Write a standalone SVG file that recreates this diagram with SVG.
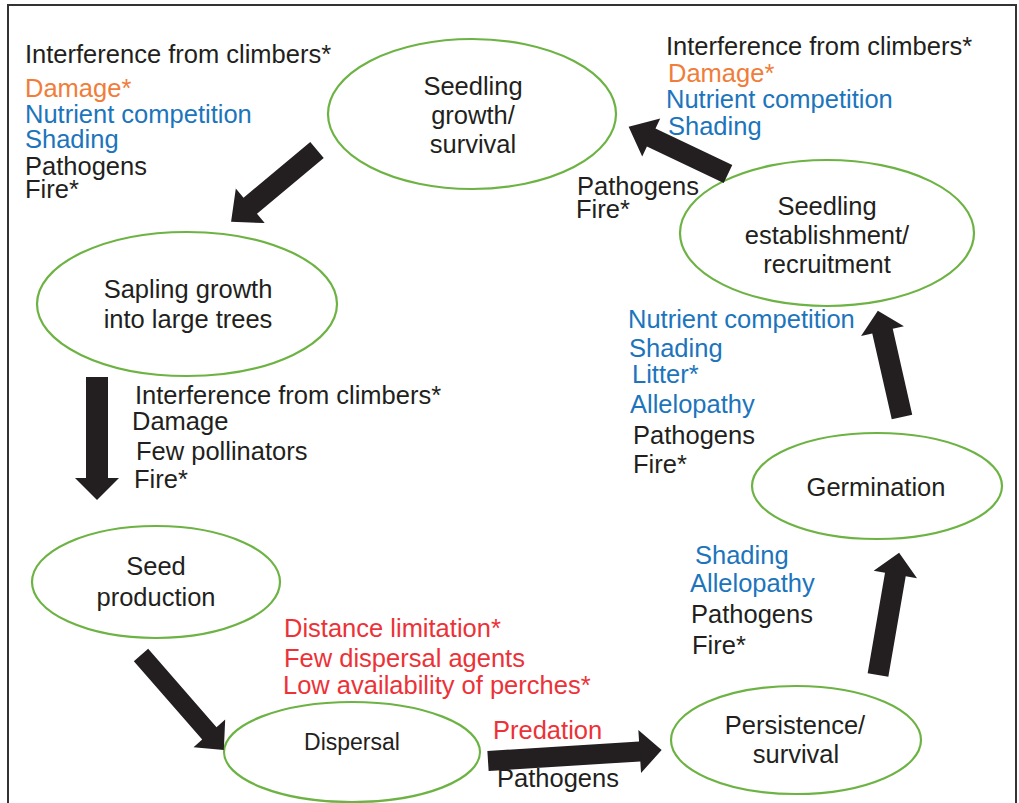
<svg xmlns="http://www.w3.org/2000/svg" width="1019" height="803" viewBox="0 0 1019 803">
<style>
text{font-family:"Liberation Sans",Arial,sans-serif;font-size:25.5px;fill:#231F20}
.c{text-anchor:middle}
.o{fill:#F07D3A}
.b{fill:#1C75BC}
.r{fill:#EC3237}
ellipse{fill:#fff;stroke:#6DB344;stroke-width:2.2}
.arr path{fill:#231F20}
</style>
<rect width="1019" height="803" fill="#fff"/>
<path d="M8,803 V5 H1016 V803" fill="none" stroke="#333" stroke-width="2"/>

<g id="n1"><ellipse cx="472" cy="114" rx="144" ry="75"/><text class="c" x="473" y="95">Seedling</text><text class="c" x="473" y="124">growth/</text><text class="c" x="473" y="153">survival</text></g>
<g id="n2"><ellipse cx="187" cy="304" rx="150" ry="72"/><text class="c" x="188" y="298">Sapling growth</text><text class="c" x="188" y="328">into large trees</text></g>
<g id="n3"><ellipse cx="156" cy="582" rx="124" ry="56"/><text class="c" x="156" y="575">Seed</text><text class="c" x="156" y="606">production</text></g>
<g id="n4"><ellipse cx="352" cy="752" rx="128" ry="50"/><text class="c" x="352" y="750" style="font-size:23px">Dispersal</text></g>
<g id="n5"><ellipse cx="796" cy="740" rx="125" ry="54"/><text class="c" x="795" y="734">Persistence/</text><text class="c" x="796" y="763">survival</text></g>
<g id="n6"><ellipse cx="877" cy="486" rx="125" ry="53"/><text class="c" x="876" y="496">Germination</text></g>
<g id="n7"><ellipse cx="827" cy="233" rx="147" ry="73"/><text class="c" x="827" y="215">Seedling</text><text class="c" x="827" y="244">establishment/</text><text class="c" x="827" y="273">recruitment</text></g>

<g id="connectors" class="arr">
<path transform="translate(317,150) rotate(140.1)" d="M0,-10.5 L87,-10.5 L87,-22.5 L112,0 L87,22.5 L87,10.5 L0,10.5Z"/>
<path transform="translate(97,377) rotate(90)" d="M0,-11 L101,-11 L101,-22 L123,0 L101,22 L101,11 L0,11Z"/>
<path transform="translate(141,655) rotate(48.9)" d="M0,-9.5 L104,-9.5 L104,-21 L126,0 L104,21 L104,9.5 L0,9.5Z"/>
<path transform="translate(488,761) rotate(-3.6)" d="M0,-10 L152,-10 L152,-21.5 L174,0 L152,21.5 L152,10 L0,10Z"/>
<path transform="translate(878,675) rotate(-80.2)" d="M0,-10.5 L102,-10.5 L102,-22 L124,0 L102,22 L102,10.5 L0,10.5Z"/>
<path transform="translate(902,417) rotate(-102.8)" d="M0,-10.5 L88,-10.5 L88,-22 L109,0 L88,22 L88,10.5 L0,10.5Z"/>
<path transform="translate(728,174) rotate(-154.6)" d="M0,-10 L85,-10 L85,-21 L110,0 L85,21 L85,10 L0,10Z"/>
</g>

<g id="labels">
<text x="25" y="63">Interference from climbers*</text>
<text class="o" x="25" y="97">Damage*</text>
<text class="b" x="25" y="123">Nutrient competition</text>
<text class="b" x="25" y="148">Shading</text>
<text x="25" y="175">Pathogens</text>
<text x="25" y="198">Fire*</text>

<text x="666" y="55">Interference from climbers*</text>
<text class="o" x="668" y="82">Damage*</text>
<text class="b" x="666" y="108">Nutrient competition</text>
<text class="b" x="668" y="135">Shading</text>
<text x="577" y="195">Pathogens</text>
<text x="576" y="218">Fire*</text>

<text x="135" y="404">Interference from climbers*</text>
<text x="132" y="430">Damage</text>
<text x="136" y="460">Few pollinators</text>
<text x="134" y="488">Fire*</text>

<text class="r" x="284" y="637">Distance limitation*</text>
<text class="r" x="284" y="667">Few dispersal agents</text>
<text class="r" x="283" y="694">Low availability of perches*</text>
<text class="r" x="493" y="739">Predation</text>
<text x="497" y="787">Pathogens</text>

<text class="b" x="628" y="328">Nutrient competition</text>
<text class="b" x="629" y="357">Shading</text>
<text class="b" x="632" y="383">Litter*</text>
<text class="b" x="630" y="413">Allelopathy</text>
<text x="633" y="444">Pathogens</text>
<text x="633" y="473">Fire*</text>

<text class="b" x="695" y="564">Shading</text>
<text class="b" x="690" y="592">Allelopathy</text>
<text x="691" y="623">Pathogens</text>
<text x="692" y="654">Fire*</text>
</g>
</svg>
